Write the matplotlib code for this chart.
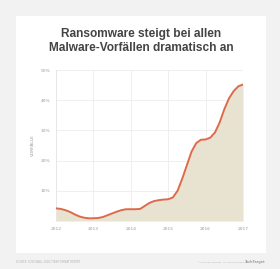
import numpy as np
import matplotlib.pyplot as plt
from matplotlib.patches import Rectangle

# readings every eighth of a year (share of malware incidents, %)
years = [2012.0, 2012.125, 2012.25, 2012.375, 2012.5, 2012.625, 2012.75, 2012.875,
         2013.0, 2013.125, 2013.25, 2013.375, 2013.5, 2013.625, 2013.75, 2013.875,
         2014.0, 2014.125, 2014.25, 2014.375, 2014.5, 2014.625, 2014.75, 2014.875,
         2015.0, 2015.125, 2015.25, 2015.375, 2015.5, 2015.625, 2015.75, 2015.875,
         2016.0, 2016.125, 2016.25, 2016.375, 2016.5, 2016.625, 2016.75, 2016.875,
         2017.0]
share = [4.2, 4.0, 3.6, 3.0, 2.2, 1.5, 1.1, 0.9,
         0.9, 1.0, 1.3, 1.9, 2.5, 3.1, 3.6, 3.9,
         3.9, 3.9, 4.0, 5.0, 6.0, 6.6, 6.9, 7.1,
         7.2, 7.8, 10.0, 14.0, 18.5, 23.0, 25.8, 26.9,
         27.0, 27.6, 29.3, 32.6, 37.0, 40.6, 43.0, 44.6,
         45.2]

year_ticks = [2012, 2013, 2014, 2015, 2016, 2017]
pct_ticks = [10, 20, 30, 40, 50]

W, H = 280, 269
fig = plt.figure(figsize=(W / 100, H / 100), dpi=100, facecolor='#f2f2f2')

# white card behind everything
fig.patches.append(Rectangle((16 / W, 1 - 253 / H), 250 / W, 237 / H,
                             transform=fig.transFigure, facecolor='white',
                             edgecolor='none', zorder=-5))

fig.text(141 / W, 1 - 37 / H, 'Ransomware steigt bei allen',
         ha='center', va='baseline', fontsize=8.6, fontweight='bold',
         color='#444444', family='Liberation Sans')
fig.text(141 / W, 1 - 51 / H, 'Malware-Vorfällen dramatisch an',
         ha='center', va='baseline', fontsize=8.6, fontweight='bold',
         color='#444444', family='Liberation Sans')

ax = fig.add_axes([56 / W, 1 - 221 / H, 187 / W, 151 / H])
ax.set_facecolor('white')

ax.fill_between(years, share, 0, color='#e8e2d0', zorder=2, linewidth=0)
ax.plot(years, share, color='#de6a4b', linewidth=1.4, zorder=3,
        solid_capstyle='round', solid_joinstyle='round')

ax.set_xlim(2012, 2017)
ax.set_ylim(0, 50)
ax.set_xticks(year_ticks)
ax.set_xticklabels([str(y) for y in year_ticks])
ax.set_yticks(pct_ticks)
ax.set_yticklabels(['{}%'.format(p) for p in pct_ticks])
ax.tick_params(length=0, labelsize=3.2, labelcolor='#9a9a9a', pad=4)
ax.grid(True, color='#ececec', linewidth=0.6, zorder=1)
for s in ['top', 'right', 'bottom']:
    ax.spines[s].set_visible(False)
ax.spines['left'].set_color('#e6e6e6')
ax.spines['left'].set_linewidth(0.6)

ax.set_ylabel('VORFÄLLE', fontsize=3.2, color='#9a9a9a', labelpad=4)

# footer
fig.text(16 / W, 1 - 262 / H, 'SOURCE: SONICWALL 2018 CYBER THREAT REPORT',
         fontsize=1.8, color='#b0b0b0', va='center', ha='left')
fig.text(249 / W, 1 - 262 / H, '©2018 TECHTARGET. ALL RIGHTS RESERVED',
         fontsize=1.6, color='#b0b0b0', va='center', ha='right')
fig.text(266 / W, 1 - 262 / H, 'TechTarget', fontsize=2.4, color='#a0a0a0',
         va='center', ha='right', fontweight='bold')

fig.savefig('out.png', dpi=100, facecolor=fig.get_facecolor())
